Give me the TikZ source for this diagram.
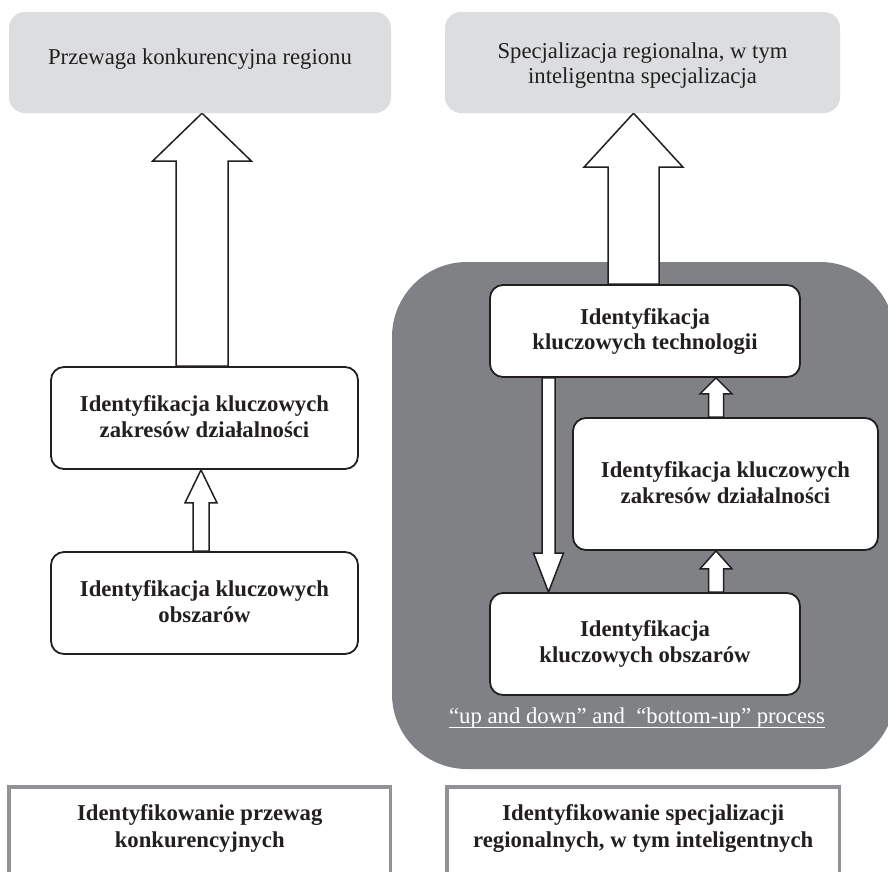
\documentclass[tikz,border=0pt]{standalone}
\usepackage{fontspec}
\setmainfont{Liberation Serif}
\usetikzlibrary{calc}
\pgfdeclarelayer{back}
\pgfdeclarelayer{mid}
\pgfsetlayers{back,mid,main}
\definecolor{panelgray}{RGB}{128,129,133}
\definecolor{lightbox}{RGB}{220,221,223}
\definecolor{ink}{RGB}{35,31,32}
\definecolor{framegray}{RGB}{145,146,149}
\newcommand\bstr{\rule[-4pt]{0pt}{20pt}}
\newcommand\ghi{\rule{0pt}{21pt}}
\newcommand\glo{\rule[-5pt]{0pt}{5pt}}
\newcommand\lhi{\rule{0pt}{33pt}}
\newcommand\llo{\rule[-32pt]{0pt}{32pt}}
\newcommand\blkup[5]{\draw[blockarrow] let \p1=#1, \p2=#2 in
  (\x1-#3,\y1) -- (\x1-#3,\y2-#5) -- (\x1-#4,\y2-#5) -- (\x1,\y2) --
  (\x1+#4,\y2-#5) -- (\x1+#3,\y2-#5) -- (\x1+#3,\y1) -- cycle;}
\newcommand\blkdown[5]{\draw[blockarrow] let \p1=#1, \p2=#2 in
  (\x1-#3,\y1) -- (\x1-#3,\y2+#5) -- (\x1-#4,\y2+#5) -- (\x1,\y2) --
  (\x1+#4,\y2+#5) -- (\x1+#3,\y2+#5) -- (\x1+#3,\y1) -- cycle;}
\tikzset{
  goal/.style={fill=lightbox, rounded corners=16pt, inner sep=0pt, align=center,
    font=\fontsize{22.7}{25}\selectfont, text=ink},
  stepbox/.style={draw=ink, line width=1.8pt, fill=white, rounded corners=13pt,
    inner sep=0pt, align=center, font=\fontsize{22.7}{26}\selectfont\bfseries, text=ink},
  basebox/.style={draw=framegray, line width=3.5pt, fill=white, inner sep=0pt,
    outer sep=0pt, align=center, anchor=north,
    font=\fontsize{22.7}{27}\selectfont\bfseries, text=ink},
  blockarrow/.style={draw=ink, fill=white, line width=1.5pt, line join=miter},
  note/.style={font=\fontsize{22.7}{25}\selectfont, text=white, inner sep=0pt, anchor=base}
}
\begin{document}
\begin{tikzpicture}[x=1pt,y=-1pt]
\clip (0,0) rectangle (888,871);
\begin{pgfonlayer}{back}
  \fill[white] (0,0) rectangle (888,871);
  \fill[panelgray, rounded corners=75pt] (392,262) rectangle (895,769);
\end{pgfonlayer}

% top goals
\node[goal, minimum width=382pt, minimum height=101pt] (gl) at (200,62.5)
  {\rule[-11pt]{0pt}{11pt}Przewaga konkurencyjna regionu};
\node[goal, minimum width=395pt, minimum height=101pt] (gr) at (642.5,62.5)
  {\ghi Specjalizacja regionalna, w tym\\inteligentna specjalizacja\glo};

% left column
\node[stepbox, minimum width=307pt, minimum height=102pt] (lz) at (204.5,418)
  {\bstr Identyfikacja kluczowych\\\bstr zakresów działalności};
\node[stepbox, minimum width=307pt, minimum height=102pt] (lo) at (204.5,603)
  {\bstr Identyfikacja kluczowych\\\bstr obszarów};

% right column
\node[stepbox, minimum width=310pt, minimum height=92pt,
      font=\fontsize{22.7}{25}\selectfont\bfseries] (tech) at (645,331)
  {\bstr Identyfikacja\\\bstr kluczowych technologii};
\node[stepbox, minimum width=305pt, minimum height=132pt] (rz) at (725.5,484)
  {\bstr Identyfikacja kluczowych\\\bstr zakresów działalności};
\node[stepbox, minimum width=310pt, minimum height=102pt] (ro) at (645,644)
  {\bstr Identyfikacja\\\bstr kluczowych obszarów};

% process note
\node[note] (ul) at (637,723) {“up and down” and~ “bottom-up” process};
\draw[white, line width=1.2pt] ([yshift=-4.5pt]ul.base west) -- ([yshift=-4.5pt]ul.base east);

% bottom headers
\node[basebox, minimum width=381.5pt] (bl) at (199.75,787)
  {\lhi Identyfikowanie przewag\\konkurencyjnych\llo};
\node[basebox, minimum width=392.5pt] (br) at (643.25,787)
  {\lhi Identyfikowanie specjalizacji\\regionalnych, w tym inteligentnych\llo};

% block arrows
\begin{pgfonlayer}{mid}
  \blkup{([xshift=-2.5pt]lz.north)}{(gl.south)}{26pt}{49.5pt}{48pt}
  \blkup{([xshift=-11.5pt]tech.north)}{(gr.south)}{25.5pt}{49.5pt}{54pt}
  \blkup{([xshift=-3.5pt]lo.north)}{(lz.south)}{8pt}{16pt}{33pt}
  \blkup{([xshift=-9.5pt]rz.north)}{(tech.south)}{7.5pt}{16pt}{16pt}
  \blkup{([xshift=71pt]ro.north)}{(rz.south)}{7.5pt}{16pt}{18pt}
  \blkdown{([xshift=-96.5pt]tech.south)}{(ro.north)}{6.5pt}{15pt}{39pt}
\end{pgfonlayer}
\end{tikzpicture}
\end{document}
